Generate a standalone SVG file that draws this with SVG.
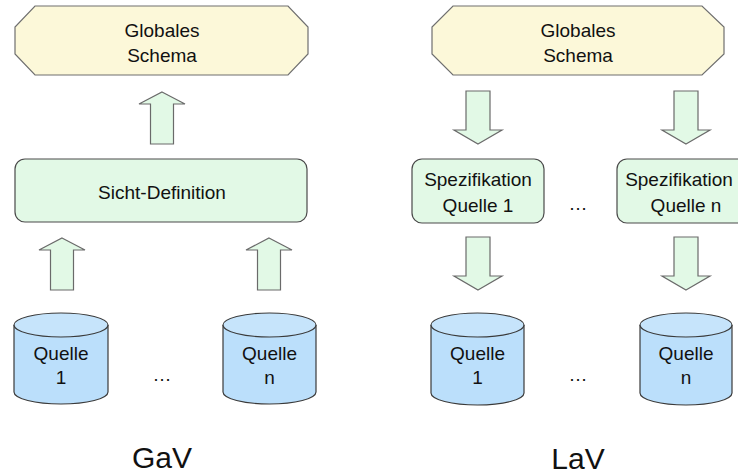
<svg xmlns="http://www.w3.org/2000/svg" width="738" height="474" viewBox="0 0 738 474">
  <style>
    .schema { fill: #fcf8d9; stroke: #6f6f6f; stroke-width: 1.2; }
    .box { fill: #e2f9e6; stroke: #4a4a4a; stroke-width: 1.2; }
    .arrow { fill: #e2f9e6; stroke: #6a6a6a; stroke-width: 1.2; stroke-linejoin: miter; }
    .cyl { fill: #bbdffb; stroke: #3a3a3a; stroke-width: 1.2; }
    .cyltop { fill: #c6e4fb; stroke: #3a3a3a; stroke-width: 1.2; }
    text { font-family: "Liberation Sans", Arial, sans-serif; fill: #111; text-anchor: middle; }
    .lbl { font-size: 19px; }
    .title { font-size: 30px; }
  </style>
  <defs>
    <!-- arrow shapes, tip at origin -->
    <path id="up" d="M0,0 L23,12 L11.5,12 L11.5,52 L-11.5,52 L-11.5,12 L-23,12 Z"/>
    <path id="down" d="M0,0 L24,-14 L12,-14 L12,-53 L-12,-53 L-12,-14 L-24,-14 Z"/>
  </defs>

  <!-- GaV side -->
  <g id="gav-schema">
    <polygon class="schema" points="35,6 288,6 308,27 308,54 288,75 35,75 15,54 15,27"/>
    <text class="lbl" x="162" y="37">Globales</text>
    <text class="lbl" x="162" y="62">Schema</text>
  </g>
  <g id="gav-view">
    <rect class="box" x="15" y="159" width="292" height="63" rx="10"/>
    <text class="lbl" x="162" y="199">Sicht-Definition</text>
  </g>
  <g id="gav-src1">
    <path class="cyl" d="M14,325 L14,392 A47,12 0 0 0 108,392 L108,325"/>
    <ellipse class="cyltop" cx="61" cy="325" rx="47" ry="12"/>
    <text class="lbl" x="61" y="360">Quelle</text>
    <text class="lbl" x="61" y="384">1</text>
  </g>
  <g id="gav-srcn">
    <path class="cyl" d="M223,325 L223,392 A46.5,12 0 0 0 316,392 L316,325"/>
    <ellipse class="cyltop" cx="269.5" cy="325" rx="46.5" ry="12"/>
    <text class="lbl" x="269.5" y="360">Quelle</text>
    <text class="lbl" x="269.5" y="384">n</text>
  </g>
  <text class="lbl" x="162" y="381">…</text>
  <text class="title" x="162" y="468">GaV</text>

  <!-- LaV side -->
  <g id="lav-schema">
    <polygon class="schema" points="453,6 702,6 724,27 724,54 702,75 453,75 432,54 432,27"/>
    <text class="lbl" x="578" y="37">Globales</text>
    <text class="lbl" x="578" y="62">Schema</text>
  </g>
  <g id="lav-spec1">
    <rect class="box" x="412" y="159" width="132" height="64" rx="10"/>
    <text class="lbl" x="478" y="186">Spezifikation</text>
    <text class="lbl" x="478" y="212">Quelle 1</text>
  </g>
  <g id="lav-specn">
    <rect class="box" x="617" y="159" width="138" height="64" rx="10"/>
    <text class="lbl" x="679" y="186">Spezifikation</text>
    <text class="lbl" x="686" y="212">Quelle n</text>
  </g>
  <text class="lbl" x="578" y="210">…</text>
  <g id="lav-src1">
    <path class="cyl" d="M431,325 L431,393 A46.5,12 0 0 0 524,393 L524,325"/>
    <ellipse class="cyltop" cx="477.5" cy="325" rx="46.5" ry="12"/>
    <text class="lbl" x="477.5" y="360">Quelle</text>
    <text class="lbl" x="477.5" y="384">1</text>
  </g>
  <g id="lav-srcn">
    <path class="cyl" d="M640,325 L640,393 A46,12 0 0 0 732,393 L732,325"/>
    <ellipse class="cyltop" cx="686" cy="325" rx="46" ry="12"/>
    <text class="lbl" x="686" y="360">Quelle</text>
    <text class="lbl" x="686" y="384">n</text>
  </g>
  <text class="lbl" x="578" y="381">…</text>
  <text class="title" x="578" y="469">LaV</text>

  <!-- connectors: block arrows -->
  <g id="connectors">
    <use href="#up" class="arrow" x="162" y="92"/>
    <use href="#up" class="arrow" x="62" y="238"/>
    <use href="#up" class="arrow" x="269" y="238"/>
    <use href="#down" class="arrow" x="478" y="144"/>
    <use href="#down" class="arrow" x="686" y="144"/>
    <use href="#down" class="arrow" x="478" y="290"/>
    <use href="#down" class="arrow" x="686" y="290"/>
  </g>
</svg>
